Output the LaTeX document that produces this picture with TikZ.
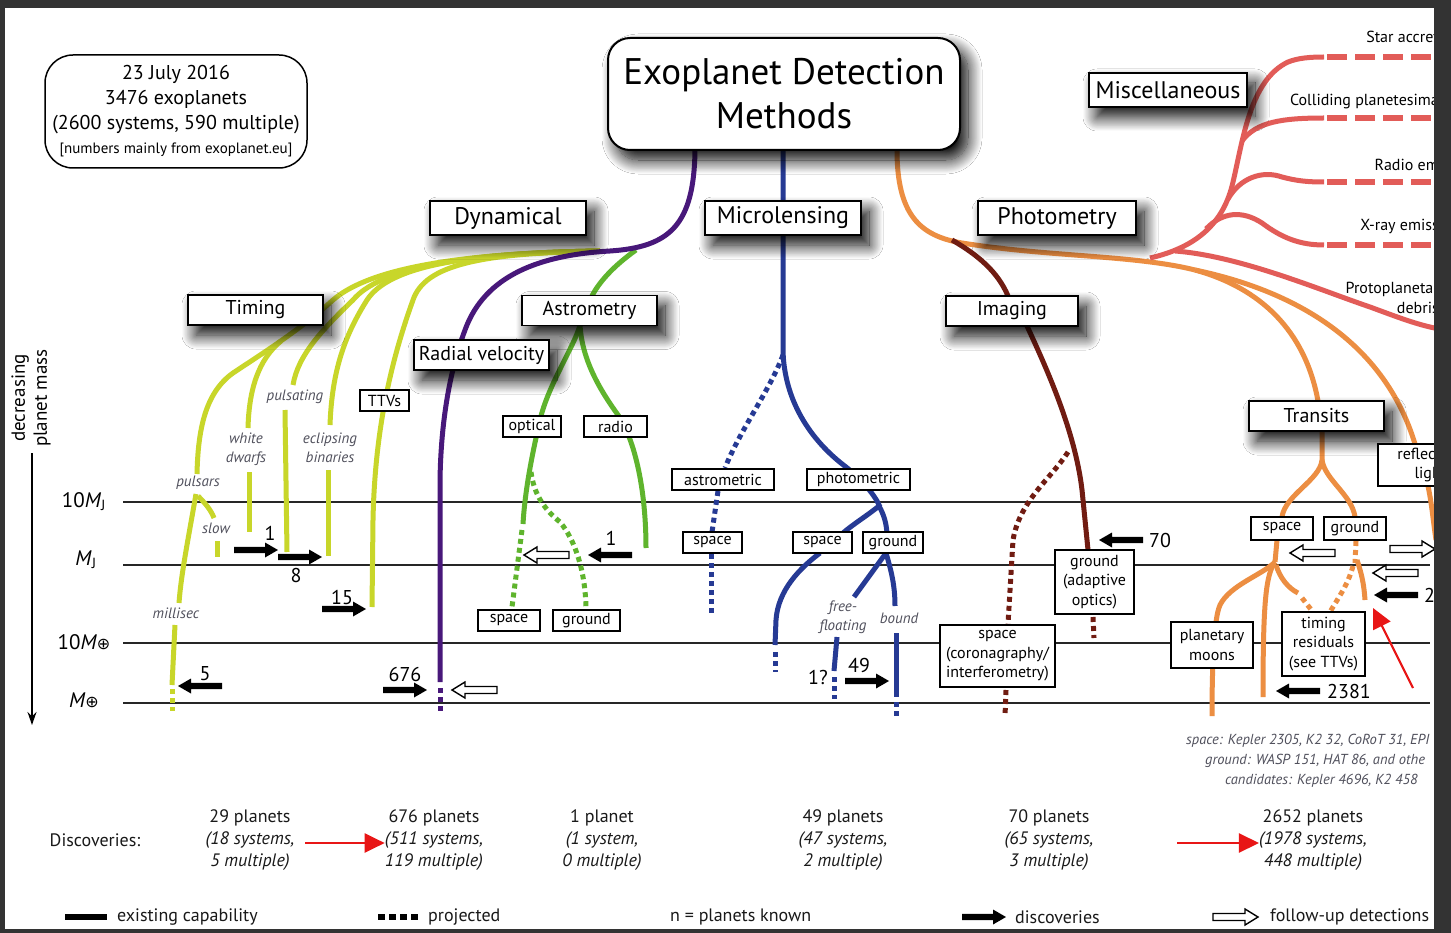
\documentclass[tikz,border=0pt]{standalone}
\usepackage{fontspec}
\setmainfont{PT Sans}
\newfontfamily\djv{DejaVu Sans}
\usetikzlibrary{shadows.blur,arrows.meta}
\newcommand\fs[2]{\fontsize{#1}{#2}\selectfont}
\definecolor{ylw}{RGB}{200,214,42}
\definecolor{purp}{RGB}{72,24,122}
\definecolor{grn}{RGB}{95,180,45}
\definecolor{blu}{RGB}{38,58,148}
\definecolor{brn}{RGB}{112,28,18}
\definecolor{org}{RGB}{236,142,66}
\definecolor{sal}{RGB}{226,92,88}
\definecolor{frm}{RGB}{51,51,51}
\definecolor{lbl}{RGB}{80,80,92}
\definecolor{arrred}{RGB}{232,22,22}
\tikzset{
  farrow/.pic={\fill[black] (0,-3.2) -- (31,-3.2) -- (31,-7.5) -- (44,0) -- (31,7.5) -- (31,3.2) -- (0,3.2) -- cycle;},
  harrow/.pic={\draw[line width=1.4pt, fill=white] (0,-3.5) -- (32,-3.5) -- (32,-8) -- (45,0) -- (32,8) -- (32,3.5) -- (0,3.5) -- cycle;}
}
\begin{document}
\begin{tikzpicture}[x=1pt,y=-1pt,
  cv/.style={line width=5pt},
  dt/.style={line width=5pt, dash pattern=on 5pt off 4pt},
  hl/.style={line width=1.6pt, black!85},
  sbox/.style={draw, line width=1.8pt, fill=white, inner sep=0pt,
     blur shadow={shadow xshift=8pt, shadow yshift=-10pt, shadow blur radius=14pt, shadow blur steps=20, shadow opacity=100}},
  tbox/.style={draw, line width=1.2pt, fill=white, inner sep=0pt, align=center, font=\fs{16}{19.5}},
  lab/.style={font=\fs{15}{19}\itshape, text=lbl, align=center, inner sep=0pt},
  num/.style={font=\fs{20}{22}, inner sep=0pt},
  disc/.style={font=\fs{18}{22}, align=center, text=black!90, inner sep=0pt},
  kep/.style={font=\fs{14.5}{18}\itshape, text=lbl, inner sep=0pt, anchor=west},
  misc/.style={font=\fs{16}{20}, text=black, inner sep=0pt, anchor=east, align=right},
  leg/.style={font=\fs{18}{20}, text=black!90, inner sep=0pt, anchor=west},
  redarr/.style={arrred, line width=2.2pt, -{Triangle[length=20pt,width=19pt]}}
]
\useasboundingbox (0,0) rectangle (1451,933);
\fill[white] (0,0) rectangle (1451,933);

% mass levels
\foreach \yy in {502,565,643,703} \draw[hl] (123,\yy) -- (1430,\yy);
\node[font=\fs{21}{22}] (l1) at (84,502) {10\textit{M}\textsubscript{J}};
\node[font=\fs{21}{22}] (l2) at (86,560) {\textit{M}\textsubscript{J}};
\node[font=\fs{21}{22}] (l3) at (84,642) {10\textit{M}{\djv\fs{16}{16}⊕}};
\node[font=\fs{21}{22}] (l4) at (84,700) {\textit{M}{\djv\fs{16}{16}⊕}};
\coordinate (va) at (32,453);
\coordinate (vb) at (32,725);
\draw[line width=1.6pt, -{Stealth[length=13pt,width=9pt]}] (va) -- (vb);
\node[rotate=90, font=\fs{19}{22}, align=center] (dec) at (31,398) {decreasing\\planet mass};

% ---------- yellow (timing) ----------
\draw[cv,ylw] (600,251) .. controls (480,253) and (425,265) .. (413,300) .. controls (395,350) and (375,420) .. (373,520) -- (372,607);
\draw[cv,ylw] (600,251) .. controls (470,253) and (390,265) .. (367,300) .. controls (345,335) and (332,370) .. (330,425);
\draw[cv,ylw] (328,470) -- (328,556);
\draw[cv,ylw] (600,251) .. controls (455,253) and (378,270) .. (353,300) .. controls (322,330) and (298,355) .. (293,385);
\draw[cv,ylw] (285,410) -- (287,552);
\draw[cv,ylw] (600,251) .. controls (445,253) and (365,272) .. (333,300) .. controls (300,330) and (260,355) .. (233,373) .. controls (205,393) and (198,430) .. (197,474);
\draw[cv,ylw] (281,341) .. controls (258,360) and (249,390) .. (248,428);
\draw[cv,ylw] (249,472) -- (249,532);
\draw[cv,ylw] (196,494) .. controls (188,540) and (181,575) .. (179,603);
\draw[cv,ylw] (198,496) .. controls (205,503) and (211,510) .. (214,518);
\draw[cv,ylw] (217,541) -- (217,557);
\draw[cv,ylw] (175,625) -- (172,685);
\draw[dt,ylw] (172,689) -- (172,711);

% ---------- green (astrometry) ----------
\draw[cv,grn] (636,250) .. controls (615,265) and (598,282) .. (590,300);
\draw[cv,grn] (580,325) .. controls (575,345) and (548,385) .. (540,420) .. controls (532,455) and (525,490) .. (523,524);
\draw[dt,grn] (522,530) -- (512,607);
\draw[dt,grn] (531,472) .. controls (534,495) and (545,510) .. (560,522) .. controls (575,540) and (585,570) .. (586,607);
\draw[cv,grn] (580,325) .. controls (582,360) and (600,390) .. (618,415) .. controls (635,440) and (646,490) .. (646,548);

% ---------- purple (radial velocity) ----------
\draw[cv,purp] (695,150) .. controls (694,225) and (670,247) .. (610,251) .. controls (540,255) and (485,275) .. (465,330) .. controls (450,370) and (441,420) .. (440,480) -- (440,682);
\draw[dt,purp] (440,688) -- (440,712);

% ---------- blue (microlensing) ----------
\draw[cv,blu] (783,150) -- (783,350) .. controls (784,400) and (810,440) .. (846,467) .. controls (862,480) and (875,495) .. (880,507);
\draw[cv,blu] (879,506) .. controls (868,515) and (852,525) .. (843,533);
\draw[cv,blu] (879,506) .. controls (884,515) and (886,522) .. (887,533);
\draw[cv,blu] (820,553) .. controls (800,568) and (778,590) .. (776,620) -- (775,645);
\draw[dt,blu] (775,652) -- (775,672);
\draw[cv,blu] (886,553) -- (854,597);
\draw[cv,blu] (886,553) .. controls (891,570) and (895,585) .. (895,606);
\draw[cv,blu] (837,637) -- (834,671);
\draw[dt,blu] (834,677) -- (834,699);
\draw[cv,blu] (896,633) -- (896,697);
\draw[dt,blu] (896,702) -- (896,718);
\draw[dt,blu] (783,355) .. controls (770,390) and (740,430) .. (725,468);
\draw[dt,blu] (718,491) -- (712,532);
\draw[dt,blu] (711,554) -- (711,613);

% ---------- orange (photometry / transits) ----------
\draw[cv,org] (897,150) .. controls (897,215) and (920,236) .. (962,243) .. controls (1050,257) and (1135,255) .. (1195,270);
\draw[cv,org] (1195,270) .. controls (1260,288) and (1305,330) .. (1318,401);
\draw[cv,org] (1195,270) .. controls (1300,292) and (1385,345) .. (1415,444);
\draw[cv,org] (1428,486) .. controls (1432,505) and (1433,520) .. (1436,540);
\draw[cv,org] (1322,431) -- (1322,460) .. controls (1320,480) and (1285,495) .. (1282,517);
\draw[cv,org] (1322,460) .. controls (1325,480) and (1352,495) .. (1355,517);
\draw[cv,org] (1277,540) -- (1275,562);
\draw[cv,org] (1275,562) .. controls (1262,575) and (1230,585) .. (1220,605) .. controls (1213,620) and (1212,680) .. (1212,716);
\draw[cv,org] (1275,562) .. controls (1266,575) and (1263,600) .. (1263,697);
\draw[cv,org] (1276,565) .. controls (1280,578) and (1288,588) .. (1298,593);
\draw[dt,org] (1302,598) -- (1313,612);
\draw[dt,org] (1356,541) -- (1355,563);
\draw[dt,org] (1353,566) .. controls (1348,585) and (1338,598) .. (1330,612);
\draw[cv,org] (1357,560) .. controls (1362,575) and (1364,585) .. (1365,600);

% ---------- brown (imaging) ----------
\draw[cv,brn] (952,240) .. controls (978,255) and (998,272) .. (1008,296);
\draw[cv,brn] (1027,326) .. controls (1045,365) and (1075,430) .. (1082,490) -- (1088,550);
\draw[dt,brn] (1068,452) .. controls (1050,480) and (1020,500) .. (1013,540) -- (1008,624);
\draw[dt,brn] (1093,617) -- (1094,638);
\draw[dt,brn] (1006,690) -- (1005,716);

% ---------- red (miscellaneous) ----------
\draw[cv,sal] (1150,258) .. controls (1198,247) and (1224,222) .. (1233,182) .. controls (1243,140) and (1250,80) .. (1288,62) .. controls (1298,58) and (1310,57) .. (1324,57);
\draw[cv,sal] (1242,141) .. controls (1256,122) and (1282,118) .. (1324,118);
\draw[cv,sal] (1228,199) .. controls (1240,178) and (1262,170) .. (1282,177) .. controls (1297,181) and (1308,182) .. (1324,182);
\draw[cv,sal] (1206,229) .. controls (1222,212) and (1242,210) .. (1262,223) .. controls (1282,238) and (1300,245) .. (1324,245);
\draw[cv,sal] (1175,251) .. controls (1240,256) and (1320,290) .. (1370,307) .. controls (1400,318) and (1420,326) .. (1445,330);
\foreach \yy in {57,118,182,245} \draw[sal, line width=6pt, dash pattern=on 20pt off 8pt] (1327,\yy) -- (1445,\yy);
\node[misc] (m1) at (1439,37) {Star accret};
\node[misc] (m2) at (1439,102) {Colliding planetesima};
\node[misc] (m3) at (1439,165) {Radio em};
\node[misc] (m4) at (1439,226) {X-ray emiss};
\node[misc] (m5) at (1439,298) {Protoplanetar\\debris};

% ---------- main boxes ----------
\node[draw, line width=1.5pt, rounded corners=28pt, minimum width=262pt, minimum height=113pt, align=center, inner sep=0pt, font=\fs{20}{24.7}] (info) at (176,111.5)
  {23 July 2016\\3476 exoplanets\\(2600 systems, 590 multiple)\\{\fs{15}{24.7}[numbers mainly from exoplanet.eu]}};
\node[sbox, line width=2pt, rounded corners=22pt, minimum width=352pt, minimum height=112pt, align=center, font=\fs{37}{44}] (title) at (784,94) {Exoplanet Detection\\Methods};
\node[sbox, minimum width=156pt, minimum height=34pt, font=\fs{24}{26}] (dyn) at (508,218) {Dynamical};
\node[sbox, minimum width=156pt, minimum height=34pt, font=\fs{24}{26}] (mic) at (783,218) {Microlensing};
\node[sbox, minimum width=158pt, minimum height=34pt, font=\fs{24}{26}] (pho) at (1057,218) {Photometry};
\node[sbox, minimum width=158pt, minimum height=34pt, font=\fs{24}{26}] (mis) at (1168,90) {Miscellaneous};
\node[sbox, minimum width=135pt, minimum height=30pt, font=\fs{20}{22}] (tim) at (255.5,310) {Timing};
\node[sbox, minimum width=135pt, minimum height=30pt, font=\fs{20}{22}] (ast) at (589.5,310.5) {Astrometry};
\node[sbox, minimum width=135pt, minimum height=30pt, font=\fs{20}{22}] (rv) at (481.5,355) {Radial velocity};
\node[sbox, minimum width=132pt, minimum height=30pt, font=\fs{20}{22}] (img) at (1012,311) {Imaging};
\node[sbox, minimum width=135pt, minimum height=30pt, font=\fs{20}{22}] (tra) at (1316.5,416) {Transits};

% ---------- small boxes ----------
\node[tbox, minimum width=49pt, minimum height=21pt] (ttv) at (384.5,400.5) {TTVs};
\node[tbox, minimum width=58pt, minimum height=21pt] (opt) at (532,426.5) {optical};
\node[tbox, minimum width=63pt, minimum height=21pt] (rad) at (615.5,426.5) {radio};
\node[tbox, minimum width=62pt, minimum height=21pt] (asp) at (509,620.5) {space};
\node[tbox, minimum width=67pt, minimum height=21pt] (agr) at (586.5,620.5) {ground};
\node[tbox, minimum width=102pt, minimum height=21pt] (mas) at (723,479.5) {astrometric};
\node[tbox, minimum width=103pt, minimum height=21pt] (mph) at (858.5,479.5) {photometric};
\node[tbox, minimum width=59pt, minimum height=21pt] (msp1) at (712.5,542.5) {space};
\node[tbox, minimum width=59pt, minimum height=21pt] (msp2) at (822.5,542.5) {space};
\node[tbox, minimum width=60pt, minimum height=21pt] (mgr) at (893,542.5) {ground};
\node[tbox, minimum width=79pt, minimum height=64pt] (igr) at (1094.5,582) {ground\\(adaptive\\optics)};
\node[tbox, minimum width=115pt, minimum height=62pt] (isp) at (997.5,656) {space\\(coronagraphy/\\interferometry)};
\node[tbox, minimum width=82pt, minimum height=46pt] (pm) at (1212,645) {planetary\\moons};
\node[tbox, minimum width=83pt, minimum height=64pt] (tr) at (1323.5,644) {timing\\residuals\\(see TTVs)};
\node[tbox, minimum width=62pt, minimum height=23pt] (tsp) at (1282,528.5) {space};
\node[tbox, minimum width=62pt, minimum height=23pt] (tgr) at (1355,528.5) {ground};
\node[tbox, minimum width=110pt, minimum height=42pt] (refl) at (1433,465) {};
\node[font=\fs{16}{19.5}, align=right, anchor=east, inner sep=0pt] (refltxt) at (1441,465) {reflect\\ligh};

% ---------- italic labels ----------
\node[lab] (pulsating) at (295,397) {pulsating};
\node[lab] (wd) at (246,449) {white\\dwarfs};
\node[lab] (eb) at (330,448) {eclipsing\\binaries};
\node[lab] (pulsars) at (198,483) {pulsars};
\node[lab] (slow) at (216,528) {slow};
\node[lab] (millisec) at (176,613) {millisec};
\node[lab] (ff) at (843,617) {free-\\floating};
\node[lab] (bound) at (899,618) {bound};

% ---------- arrows & numbers ----------
\pic at (234,550) {farrow};
\pic at (278,557) {farrow};
\pic at (322,609) {farrow};
\pic[rotate=180] at (222,686) {farrow};
\pic at (383,690) {farrow};
\pic[rotate=180] at (497,690) {harrow};
\node[num] (n1) at (270,533) {1};
\node[num] (n8) at (296,575) {8};
\node[num] (n15) at (342,597) {15};
\node[num] (n5) at (205,674) {5};
\node[num] (n676) at (405,674) {676};
\pic[rotate=180] at (569,555) {harrow};
\pic[rotate=180] at (632,555) {farrow};
\node[num] (na1) at (611,538) {1};
\pic at (845,681) {farrow};
\node[num] (n1q) at (818,677) {1?};
\node[num] (n49) at (859,665) {49};
\pic[rotate=180] at (1143,540) {farrow};
\node[num] (n70) at (1160,540) {70};
\pic[rotate=180] at (1335,553) {harrow};
\pic at (1390,549) {harrow};
\pic[rotate=180] at (1418,573) {harrow};
\pic[rotate=180] at (1418,595) {farrow};
\node[num, anchor=west] (n2) at (1424,595) {2};
\pic[rotate=180] at (1320,691) {farrow};
\node[num] (n2381) at (1349,691) {2381};
\coordinate (ra1) at (1413,688);
\coordinate (ra2) at (1373,608);
\draw[redarr] (ra1) -- (ra2);

% ---------- bottom texts ----------
\node[kep] (k1) at (1186,741) {space: Kepler 2305, K2 32, CoRoT 31, EPI};
\node[kep] (k2) at (1205,761) {ground: WASP 151, HAT 86, and othe};
\node[kep] (k3) at (1225,781) {candidates: Kepler 4696, K2 458};

\node[font=\fs{18}{20}, text=black!90] (dlab) at (95,840) {Discoveries:};
\node[disc] (d1) at (250,840) {29 planets\\\textit{(18 systems,}\\\textit{5 multiple)}};
\node[disc] (d2) at (434,840) {676 planets\\\textit{(511 systems,}\\\textit{119 multiple)}};
\node[disc] (d3) at (602,840) {1 planet\\\textit{(1 system,}\\\textit{0 multiple)}};
\node[disc] (d4) at (843,840) {49 planets\\\textit{(47 systems,}\\\textit{2 multiple)}};
\node[disc] (d5) at (1049,840) {70 planets\\\textit{(65 systems,}\\\textit{3 multiple)}};
\node[disc] (d6) at (1313,840) {2652 planets\\\textit{(1978 systems,}\\\textit{448 multiple)}};
\coordinate (r1a) at (305,843);
\coordinate (r2a) at (1177,843);
\draw[redarr] (r1a) -- (d2.west |- r1a);
\draw[redarr] (r2a) -- (d6.west |- r2a);

% legend
\fill[black] (65,914) rectangle (107,920);
\node[leg] (lg1) at (117,917) {existing capability};
\draw[line width=6pt, dash pattern=on 7pt off 4pt] (378,917) -- (420,917);
\node[leg] (lg2) at (428,917) {projected};
\node[leg] (lg3) at (670,917) {n = planets known};
\pic at (962,917) {farrow};
\node[leg] (lg4) at (1015,917) {discoveries};
\pic at (1213,917) {harrow};
\node[leg] (lg5) at (1270,917) {follow-up detections};

% frame
\fill[frm] (0,0) rectangle (1451,8);
\fill[frm] (0,0) rectangle (5,933);
\fill[frm] (1434,0) rectangle (1451,933);
\fill[frm] (0,929) rectangle (1451,933);
\end{tikzpicture}
\end{document}
